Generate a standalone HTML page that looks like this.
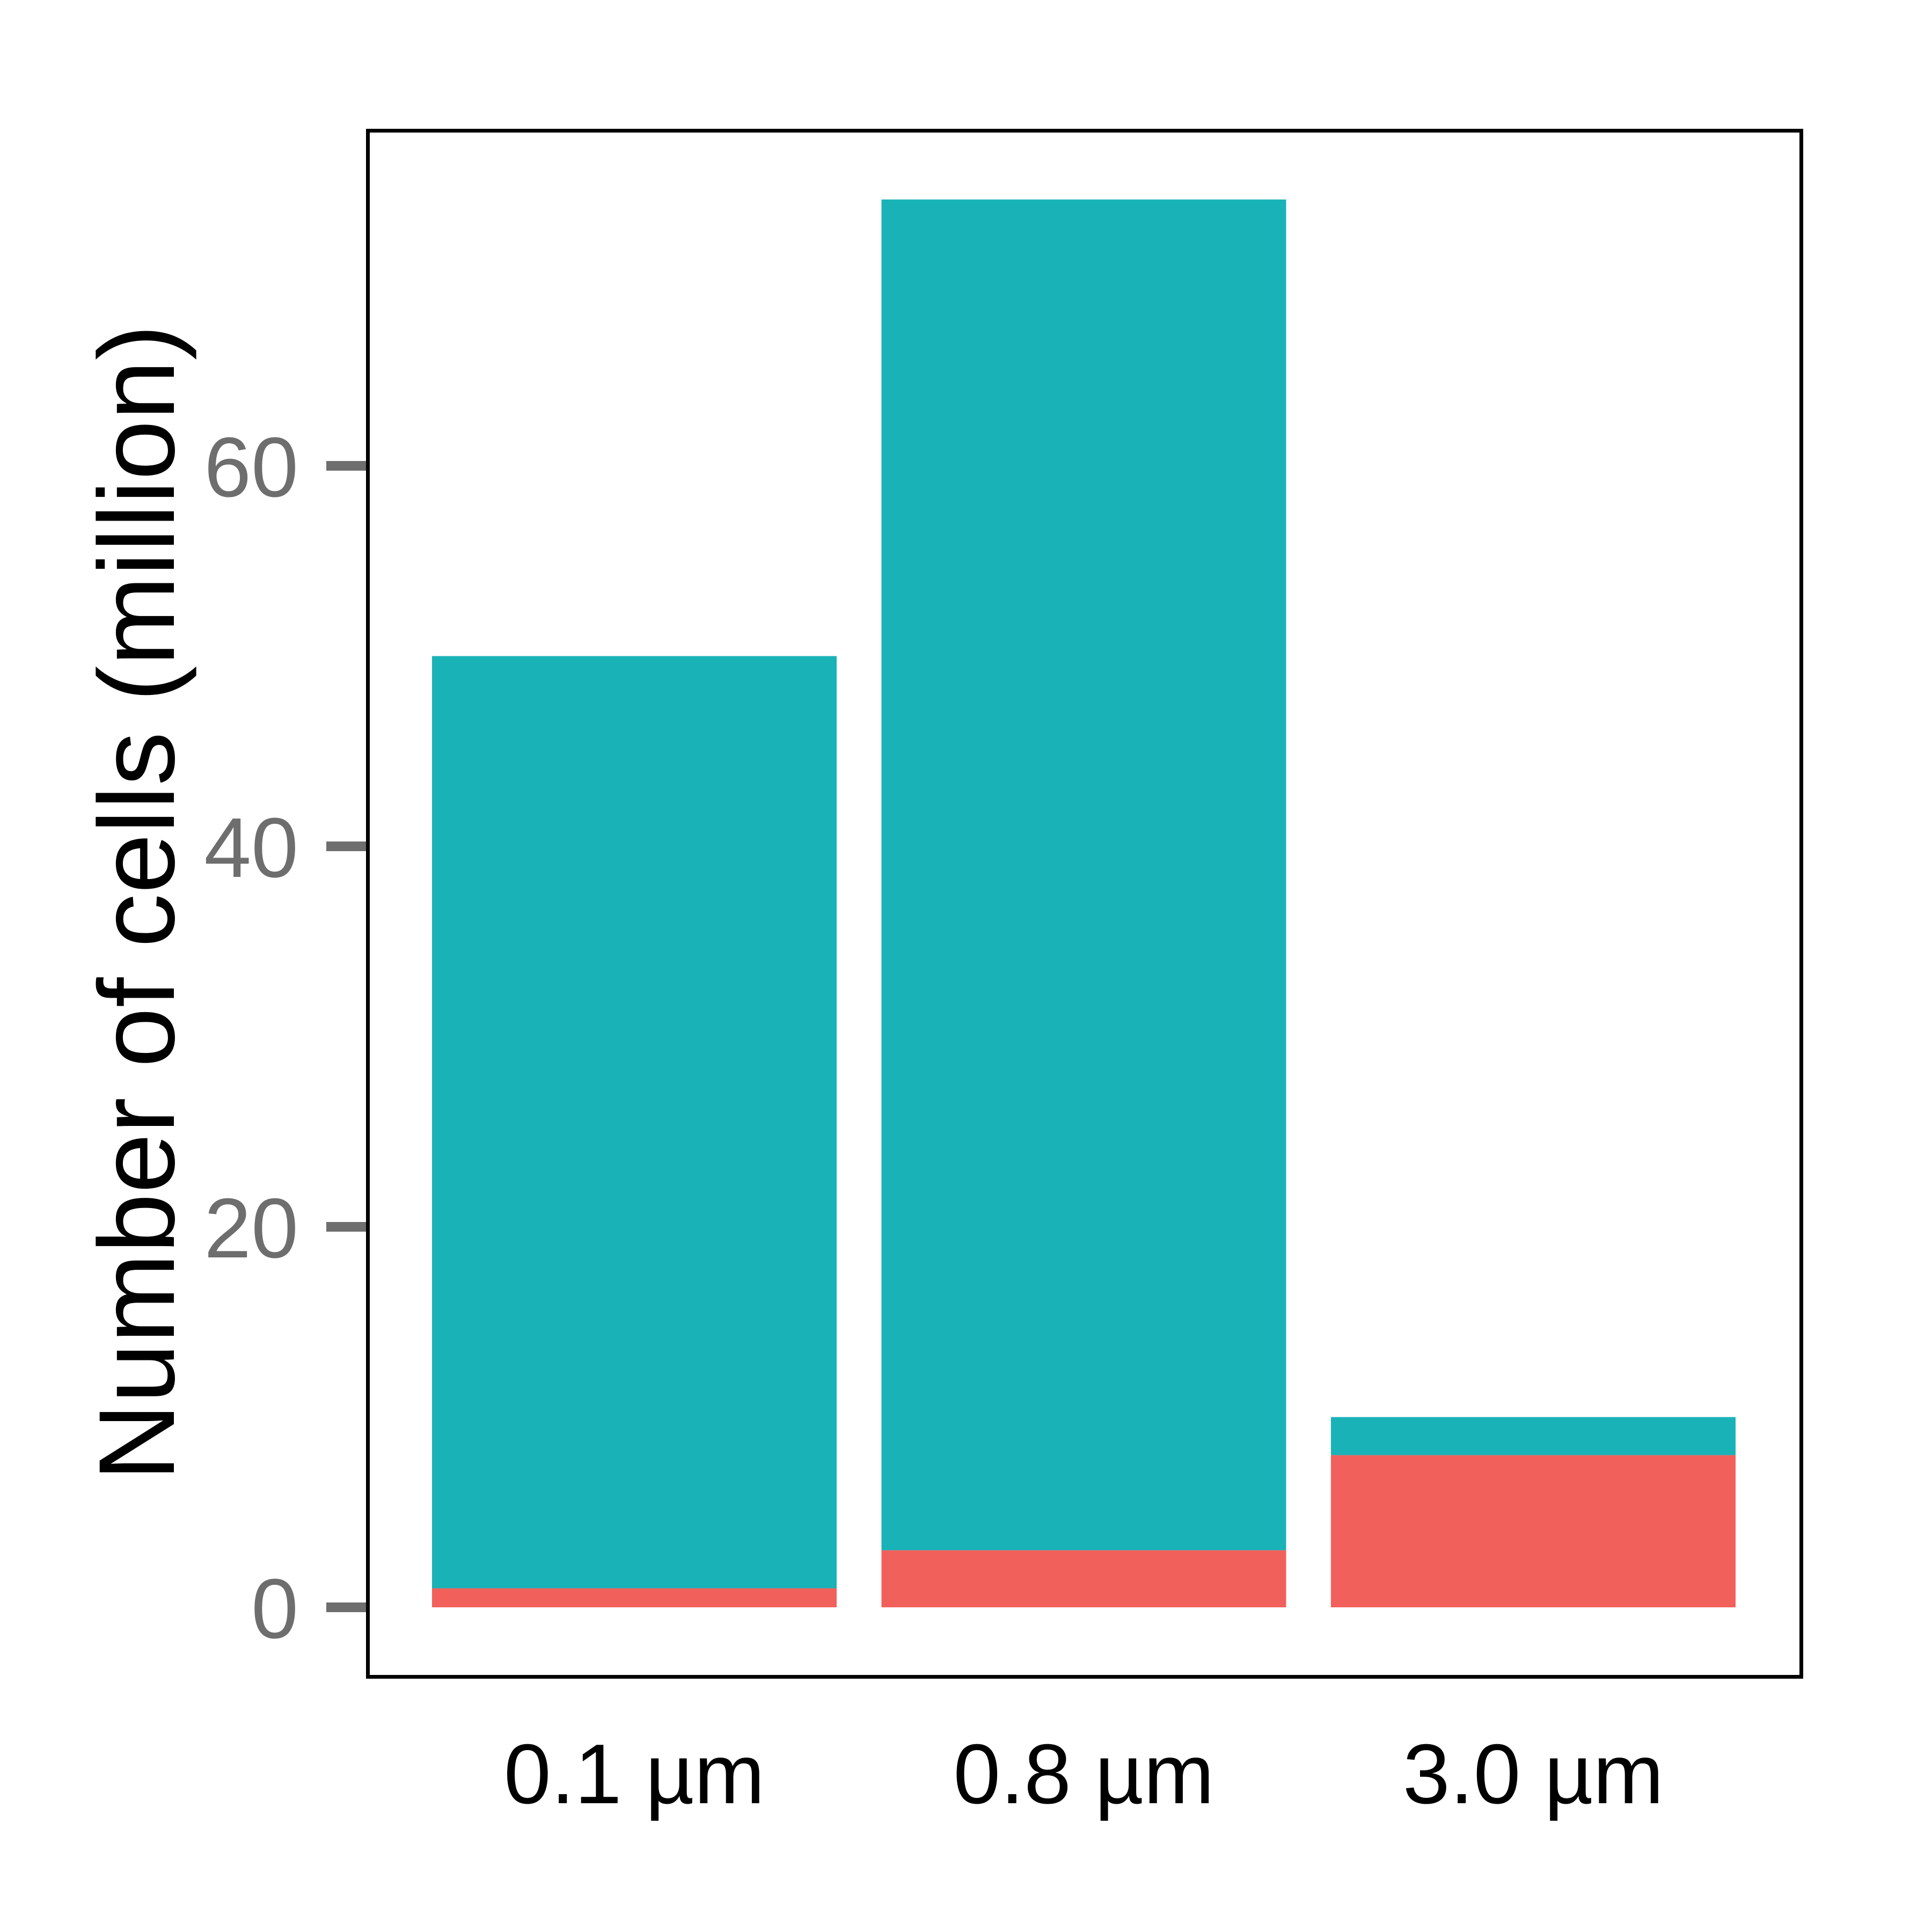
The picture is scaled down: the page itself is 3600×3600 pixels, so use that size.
<!DOCTYPE html>
<html><head><meta charset="utf-8"><style>
html,body{margin:0;padding:0;background:#fff;}
svg{display:block;}
text{font-family:"Liberation Sans",Arial,sans-serif;}
</style></head><body>
<svg id="chart" width="3600" height="3600" viewBox="0 0 3600 3600" xmlns="http://www.w3.org/2000/svg">
<rect x="0" y="0" width="3600" height="3600" fill="#ffffff"/>
<g id="bars"></g>
<g id="yaxis"></g>
<g id="xaxis"></g>
<rect x="685.5" y="243.5" width="2671" height="2881" fill="none" stroke="#000" stroke-width="7"/>
<text transform="translate(324,1682) rotate(-90)" text-anchor="middle" font-size="201" fill="#000">Number of cells (million)</text>
</svg>
<script>
const categories = ["0.1 µm", "0.8 µm", "3.0 µm"];
const redValues = [1, 3, 8];
const tealValues = [49, 71, 2];
const yTicks = [0, 20, 40, 60];

const NS = "http://www.w3.org/2000/svg";
const y0 = 2995, pxPerUnit = 35.45;
function yScale(v){ return y0 - v * pxPerUnit; }
const band = 837.5, firstCenter = 1182, barW = 754;
function xCenter(i){ return firstCenter + i * band; }

const bars = document.getElementById('bars');
categories.forEach((c, i) => {
  const x = xCenter(i) - barW / 2;
  const r = redValues[i], t = tealValues[i];
  const red = document.createElementNS(NS, 'rect');
  
  
  red.setAttribute('x', x); red.setAttribute('width', barW);
  red.setAttribute('y', yScale(r)); red.setAttribute('height', yScale(0) - yScale(r));
  red.setAttribute('fill', '#F2605C');
  bars.appendChild(red);
  const teal = document.createElementNS(NS, 'rect');
  
  
  teal.setAttribute('x', x); teal.setAttribute('width', barW);
  teal.setAttribute('y', yScale(r + t)); teal.setAttribute('height', yScale(r) - yScale(r + t));
  teal.setAttribute('fill', '#19B2B7');
  bars.appendChild(teal);
  const lab = document.createElementNS(NS, 'text');
  
  
  lab.setAttribute('x', xCenter(i)); lab.setAttribute('y', 3360);
  lab.setAttribute('text-anchor', 'middle'); lab.setAttribute('font-size', '158');
  lab.setAttribute('fill', '#000');
  lab.textContent = c;
  document.getElementById('xaxis').appendChild(lab);
});

const ya = document.getElementById('yaxis');
yTicks.forEach(v => {
  const tk = document.createElementNS(NS, 'rect');
  
  
  tk.setAttribute('x', 608); tk.setAttribute('width', 76);
  tk.setAttribute('y', yScale(v) - 9); tk.setAttribute('height', 18);
  tk.setAttribute('fill', '#6e6e6e');
  ya.appendChild(tk);
  const lb = document.createElementNS(NS, 'text');
  
  
  lb.setAttribute('x', 556); lb.setAttribute('y', yScale(v) + 57);
  lb.setAttribute('text-anchor', 'end'); lb.setAttribute('font-size', '158');
  lb.setAttribute('fill', '#6e6e6e');
  lb.textContent = String(v);
  ya.appendChild(lb);
});
</script>
</body></html>
